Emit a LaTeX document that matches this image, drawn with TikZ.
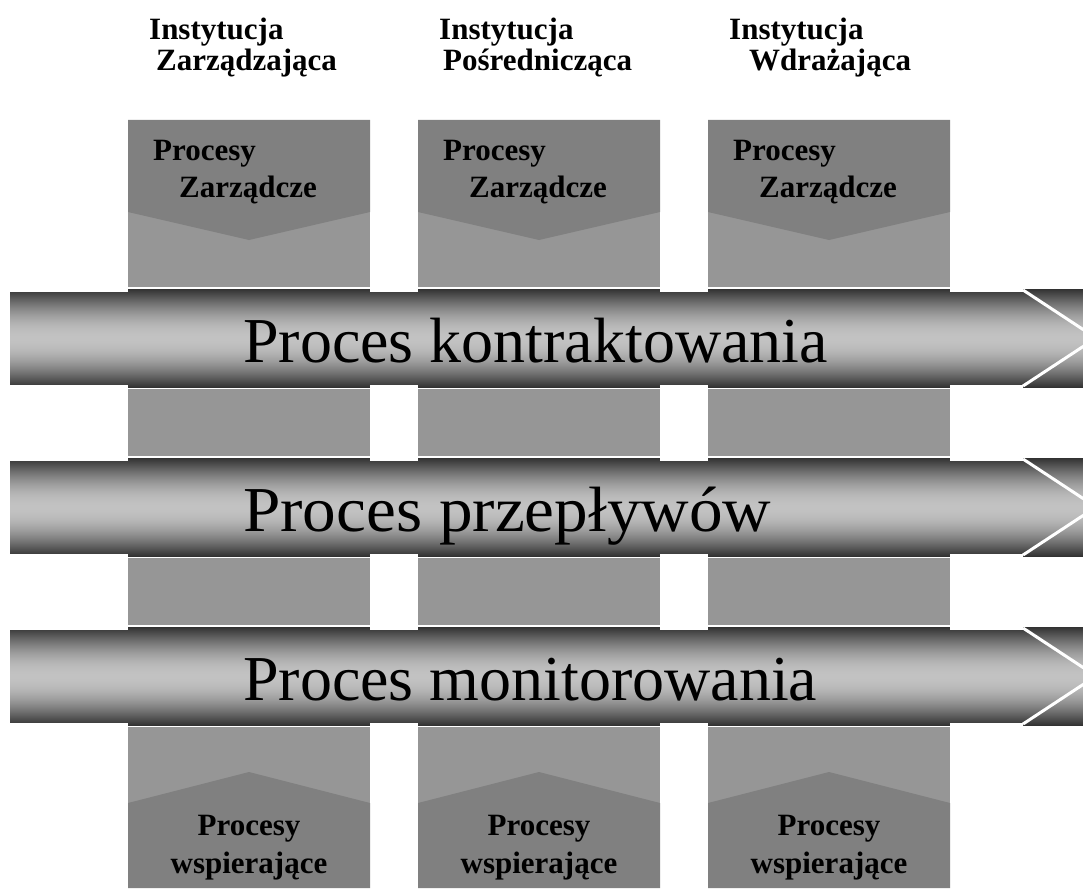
\documentclass[tikz,border=0pt]{standalone}
\usepackage{fontspec}
\setmainfont{Liberation Serif}
\definecolor{boxdark}{HTML}{808080}
\definecolor{boxlight}{HTML}{969696}
\definecolor{banddark}{HTML}{303030}
\definecolor{bandlight}{HTML}{C2C2C2}
\begin{document}
\begin{tikzpicture}[x=1pt,y=1pt,
  hdr/.style={anchor=base west, inner sep=0pt, font=\bfseries\fontsize{31}{37}\selectfont},
  ctr/.style={anchor=base, inner sep=0pt, font=\bfseries\fontsize{31}{37}\selectfont},
  big/.style={anchor=base west, inner sep=0pt, font=\fontsize{64}{77}\selectfont},
  chev/.style={draw=white, line width=3pt}]
\clip (0,0) rectangle (1083,-888);
\fill[white] (0,0) rectangle (1083,-888);

% columns: top boxes, middle boxes, bottom boxes
\foreach \cx in {128,418,708}{
  % top box
  \fill[boxlight] (\cx,-120) rectangle ++(242,-167);
  \fill[boxdark] (\cx,-120) -- ++(242,0) -- ++(0,-92) -- ++(-121,-28) -- ++(-121,28) -- cycle;
  % middle boxes
  \fill[boxlight] (\cx,-389) rectangle ++(242,-67);
  \fill[boxlight] (\cx,-558) rectangle ++(242,-67);
  % bottom box
  \fill[boxlight] (\cx,-727) rectangle ++(242,-161);
  \fill[boxdark] (\cx,-803) -- ++(121,31) -- ++(121,-31) -- (\cx+242,-888) -- (\cx,-888) -- cycle;
}

% bands (manual vertical gradient)
\foreach \c in {338,507,676}{
  \foreach \i in {0,...,98}{
    \pgfmathsetmacro\m{100*sin((\i+0.5)/99*180)}
    \fill[bandlight!\m!banddark] (10,-\c+49.5-\i) rectangle (1083,-\c+49.5-\i-1.4);
  }
  % narrower band outside the columns
  \foreach \xa/\xb in {10/128,370/418,660/708,950/1023}{
    \fill[white] (\xa,-\c+49.6) rectangle (\xb,-\c+46.5);
    \fill[white] (\xa,-\c-46.5) rectangle (\xb,-\c-49.6);
  }
  \draw[chev] (1023,-\c+48) -- (1096,-\c) -- (1023,-\c-48);
}

% header labels
\node[hdr] (h1a) at (149,-40) {Instytucja};
\node[hdr] (h1b) at (156,-71) {Zarządzająca};
\node[hdr] (h2a) at (439,-40) {Instytucja};
\node[hdr] (h2b) at (443,-71) {Pośrednicząca};
\node[hdr] (h3a) at (729,-40) {Instytucja};
\node[hdr] (h3b) at (749,-71) {Wdrażająca};

% top box labels
\node[hdr] (t1a) at (153,-160) {Procesy};
\node[hdr] (t1b) at (179,-197) {Zarządcze};
\node[hdr] (t2a) at (443,-160) {Procesy};
\node[hdr] (t2b) at (469,-197) {Zarządcze};
\node[hdr] (t3a) at (733,-160) {Procesy};
\node[hdr] (t3b) at (759,-197) {Zarządcze};

% bottom box labels
\node[ctr] (b1a) at (249,-835) {Procesy};
\node[ctr] (b1b) at (249,-873) {wspierające};
\node[ctr] (b2a) at (539,-835) {Procesy};
\node[ctr] (b2b) at (539,-873) {wspierające};
\node[ctr] (b3a) at (829,-835) {Procesy};
\node[ctr] (b3b) at (829,-873) {wspierające};

% band labels
\node[big] (p1) at (243,-362) {Proces kontraktowania};
\node[big, xscale=1.05] (p2) at (243,-531) {Proces przepływów};
\node[big] (p3) at (243,-700) {Proces monitorowania};
\end{tikzpicture}
\end{document}
